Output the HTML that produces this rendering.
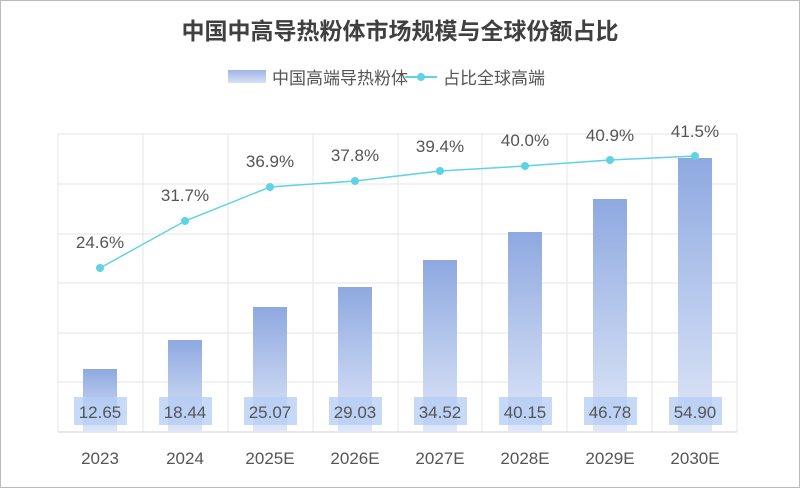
<!DOCTYPE html>
<html><head><meta charset="utf-8"><style>
body{margin:0;background:#fff}
svg{display:block;font-family:"Liberation Sans","Noto Sans CJK SC",sans-serif}
</style></head><body>
<svg width="800" height="488" viewBox="0 0 800 488">
<defs>
<linearGradient id="g" x1="0" y1="0" x2="0" y2="1"><stop offset="0" stop-color="#8ea9e0"/><stop offset="1" stop-color="#dfe7f8"/></linearGradient>
<linearGradient id="lg" x1="0" y1="0" x2="0" y2="1"><stop offset="0" stop-color="#9fb4e6"/><stop offset="1" stop-color="#d6e0f6"/></linearGradient>
</defs>
<rect x="0.5" y="0.5" width="799" height="487" fill="#fff" stroke="#bbb"/>
<text x="400" y="39" text-anchor="middle" font-size="23" font-weight="bold" fill="#404040">中国中高导热粉体市场规模与全球份额占比</text>
<rect x="228" y="70" width="38" height="13" fill="url(#lg)"/>
<text x="272" y="84" font-size="17" fill="#555">中国高端导热粉体</text>
<line x1="405" y1="77" x2="437" y2="77" stroke="#5fd3e3" stroke-width="2"/>
<circle cx="421" cy="77" r="4" fill="#5fd3e3"/>
<text x="443" y="84" font-size="17" fill="#555">占比全球高端</text>
<g stroke="#e6e6e6" stroke-width="1">
<line x1="58" y1="134" x2="737" y2="134"/><line x1="58" y1="184" x2="737" y2="184"/><line x1="58" y1="234" x2="737" y2="234"/><line x1="58" y1="283" x2="737" y2="283"/><line x1="58" y1="333" x2="737" y2="333"/><line x1="58" y1="382" x2="737" y2="382"/>
<line x1="58" y1="134" x2="58" y2="432"/><line x1="143" y1="134" x2="143" y2="432"/><line x1="228" y1="134" x2="228" y2="432"/><line x1="313" y1="134" x2="313" y2="432"/><line x1="398" y1="134" x2="398" y2="432"/><line x1="482" y1="134" x2="482" y2="432"/><line x1="567" y1="134" x2="567" y2="432"/><line x1="652" y1="134" x2="652" y2="432"/><line x1="737" y1="134" x2="737" y2="432"/>
</g>
<line x1="58" y1="432" x2="737" y2="432" stroke="#d0d0d0"/>
<g fill="url(#g)">
<rect x="83" y="369" width="34" height="63"/><rect x="168" y="340" width="34" height="92"/><rect x="253" y="307" width="34" height="125"/><rect x="338" y="287" width="34" height="145"/><rect x="423" y="260" width="34" height="172"/><rect x="508" y="232" width="34" height="200"/><rect x="593" y="199" width="34" height="233"/><rect x="678" y="158" width="34" height="274"/>
</g>
<g fill="#b4cdf5" opacity="0.75">
<rect x="74" y="397" width="53" height="28"/><rect x="159" y="397" width="53" height="28"/><rect x="244" y="397" width="53" height="28"/><rect x="329" y="397" width="53" height="28"/><rect x="414" y="397" width="53" height="28"/><rect x="499" y="397" width="53" height="28"/><rect x="584" y="397" width="53" height="28"/><rect x="669" y="397" width="53" height="28"/>
</g>
<g font-size="17" fill="#555" text-anchor="middle">
<text x="100" y="418">12.65</text><text x="185" y="418">18.44</text><text x="270" y="418">25.07</text><text x="355" y="418">29.03</text><text x="440" y="418">34.52</text><text x="525" y="418">40.15</text><text x="610" y="418">46.78</text><text x="695" y="418">54.90</text>
</g>
<g font-size="17" fill="#555" text-anchor="middle">
<text x="100" y="464">2023</text><text x="185" y="464">2024</text><text x="270" y="464">2025E</text><text x="355" y="464">2026E</text><text x="440" y="464">2027E</text><text x="525" y="464">2028E</text><text x="610" y="464">2029E</text><text x="695" y="464">2030E</text>
</g>
<polyline points="100,268 185,221 270,187 355,181 440,171 525,166 610,160 695,156" fill="none" stroke="#5fd3e3" stroke-width="1.5"/>
<g fill="#5fd3e3">
<circle cx="100" cy="268" r="4"/><circle cx="185" cy="221" r="4"/><circle cx="270" cy="187" r="4"/><circle cx="355" cy="181" r="4"/><circle cx="440" cy="171" r="4"/><circle cx="525" cy="166" r="4"/><circle cx="610" cy="160" r="4"/><circle cx="695" cy="156" r="4"/>
</g>
<g font-size="17" fill="#555" text-anchor="middle">
<text x="100" y="248">24.6%</text><text x="185" y="201">31.7%</text><text x="270" y="167">36.9%</text><text x="355" y="161">37.8%</text><text x="440" y="152">39.4%</text><text x="525" y="146">40.0%</text><text x="610" y="141">40.9%</text><text x="695" y="137">41.5%</text>
</g>
</svg>
</body></html>
